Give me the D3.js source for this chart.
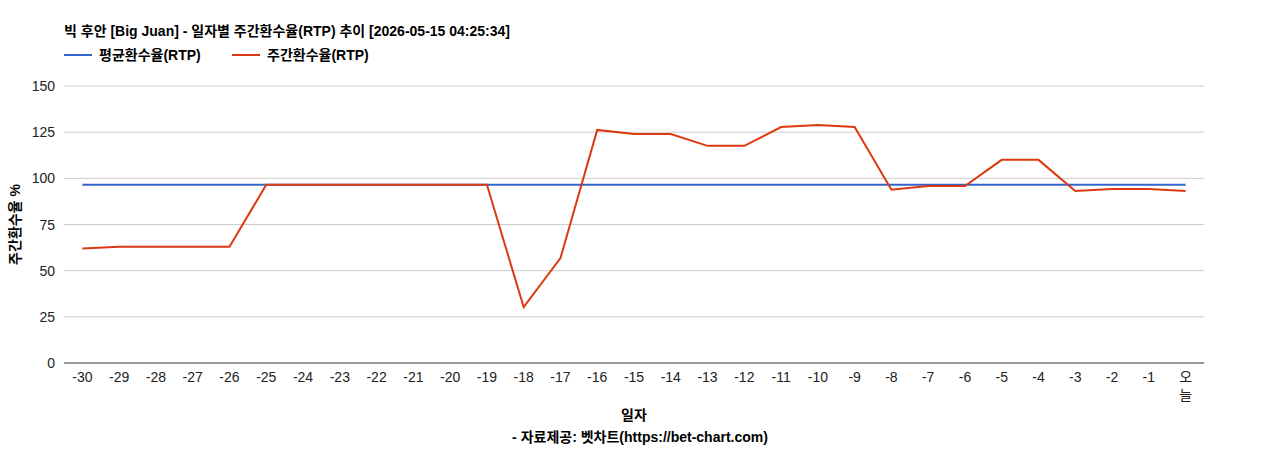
<!DOCTYPE html>
<html><head><meta charset="utf-8">
<script src="https://cdn.jsdelivr.net/npm/d3@7"></script>
<style>body{margin:0;background:#fff;}</style>
</head><body><div id="chart"></div>
<script>
var days = ["-30","-29","-28","-27","-26","-25","-24","-23","-22","-21","-20","-19","-18","-17","-16","-15","-14","-13","-12","-11","-10","-9","-8","-7","-6","-5","-4","-3","-2","-1","오늘"];
var rtp = [62,63,63,63,63,96.5,96.5,96.5,96.5,96.5,96.5,96.5,30.3,56.8,126.2,124,124,117.6,117.6,127.8,128.9,127.8,93.8,95.8,95.8,110,110,93.2,94.2,94.2,93.2];
var avgRtp = 96.5;
var yTicks = [0,25,50,75,100,125,150];

var W = 1268, H = 450;
var pLeft = 64, pRight = 1204, pTop = 86, pBottom = 363;
var svg = d3.select("#chart").append("svg").attr("width", W).attr("height", H)
	.style("font-family", "'Liberation Sans', Arial, 'Noto Sans CJK KR', sans-serif");

var x = d3.scaleBand().domain(days).range([pLeft, pRight]);
var y = d3.scaleLinear().domain([0, 150]).range([pBottom, pTop]);

//gridlines
svg.append("g").selectAll("line").data(yTicks).enter().append("line")
	.attr("x1", pLeft).attr("x2", pRight)
	.attr("y1", function(d){ return y(d); }).attr("y2", function(d){ return y(d); })
	.attr("stroke", function(d){ return d == 0 ? "#333" : "#ccc"; });
svg.append("g").selectAll("text").data(yTicks).enter().append("text")
	.attr("x", pLeft - 9).attr("y", function(d){ return y(d) + 5; })
	.attr("text-anchor", "end").style("font-size", "14px").attr("fill", "#222")
	.text(function(d){ return d; });

//x labels
svg.append("g").selectAll("text").data(days).enter().append("text")
	.attr("x", function(d){ return x(d) + x.bandwidth()/2; })
	.attr("y", 382).attr("text-anchor", "middle").style("font-size", "14px").attr("fill", "#222")
	.each(function(d){
		var t = d3.select(this);
		if (d == "오늘") {
			t.append("tspan").attr("x", x(d) + x.bandwidth()/2).text("오");
			t.append("tspan").attr("x", x(d) + x.bandwidth()/2).attr("dy", 18).text("늘");
		} else t.text(d);
	});

var cx = function(d, i){ return x(days[i]) + x.bandwidth()/2; };
svg.append("path").datum(days)
	.attr("d", d3.line().x(cx).y(function(){ return y(avgRtp); }))
	.attr("fill", "none").attr("stroke", "#3366cc").attr("stroke-width", 2);
svg.append("path").datum(rtp)
	.attr("d", d3.line().x(cx).y(function(d){ return y(d); }))
	.attr("fill", "none").attr("stroke", "#dc3912").attr("stroke-width", 2);

//titles
svg.append("text").attr("x", 64).attr("y", 36).style("font-size", "14px").style("font-weight", "bold")
	.text("빅 후안 [Big Juan] - 일자별 주간환수율(RTP) 추이 [2026-05-15 04:25:34]");
var legend = [["평균환수율(RTP)", "#3366cc", 64], ["주간환수율(RTP)", "#dc3912", 232]];
legend.forEach(function(l){
	svg.append("line").attr("x1", l[2]).attr("x2", l[2] + 28).attr("y1", 55).attr("y2", 55)
		.attr("stroke", l[1]).attr("stroke-width", 2);
	svg.append("text").attr("x", l[2] + 35).attr("y", 60).style("font-size", "14px").style("font-weight", "bold")
		.text(l[0]);
});
svg.append("text").attr("x", 634).attr("y", 420).attr("text-anchor", "middle")
	.style("font-size", "14px").style("font-weight", "bold").text("일자");
svg.append("text").attr("x", 640).attr("y", 442).attr("text-anchor", "middle")
	.style("font-size", "14px").style("font-weight", "bold").text("- 자료제공: 벳차트(https://bet-chart.com)");
svg.append("text").attr("transform", "translate(20," + (pTop + pBottom)/2 + ")rotate(-90)")
	.attr("text-anchor", "middle").style("font-size", "14px").style("font-weight", "bold")
	.text("주간환수율 %");
</script></body></html>
